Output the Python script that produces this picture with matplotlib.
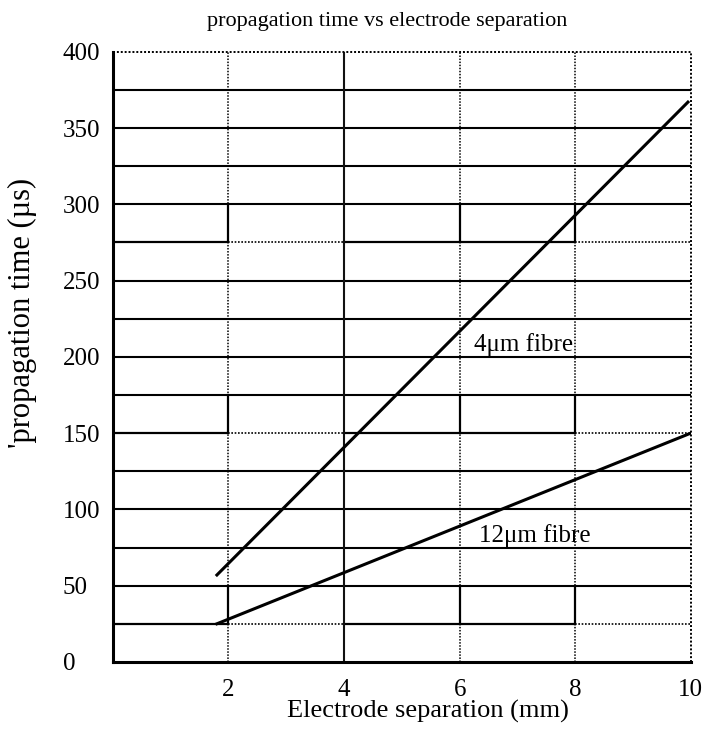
import numpy as np
import matplotlib.pyplot as plt

plt.rcParams['font.family'] = ['Liberation Serif', 'DejaVu Serif']

# measured fibres: end points of the fitted lines
sep_4um = [1.8, 9.95]
time_4um = [57, 367]
sep_12um = [1.8, 10.0]
time_12um = [25, 150]

xticks = [2, 4, 6, 8, 10]
yticks = [0, 50, 100, 150, 200, 250, 300, 350, 400]
grid_levels = np.arange(25, 400, 25)
band_lows = [25, 150, 275]   # lower edge of the boxed bands

fig = plt.figure(figsize=(7.1, 7.29), dpi=100)
ax = fig.add_axes([0.159, 0.092, 0.814, 0.837])
ax.set_xlim(0, 10)
ax.set_ylim(0, 400)

# horizontal grid, solid except where the band edges go dotted
for y in grid_levels:
    if y in band_lows:
        ax.plot([0, 2], [y, y], color='black', lw=1.6, zorder=1)
        ax.plot([2, 4], [y, y], color='black', lw=1.2, ls=(0, (1, 1)), zorder=1)
        ax.plot([4, 8], [y, y], color='black', lw=1.6, zorder=1)
        ax.plot([8, 10], [y, y], color='black', lw=1.2, ls=(0, (1, 1)), zorder=1)
    else:
        ax.plot([0, 10], [y, y], color='black', lw=1.5, zorder=1)

# vertical grid
for x in [2, 6, 8]:
    ax.plot([x, x], [0, 400], color='black', lw=1.1, ls=(0, (1, 1)), zorder=1)
ax.plot([4, 4], [0, 400], color='#111111', lw=1.5, zorder=1)

# box sides inside each band
for y in band_lows:
    for x in [2, 6, 8]:
        ax.plot([x, x], [y, y + 25], color='black', lw=1.6, zorder=2)

# frame: solid left/bottom, dotted top/right
for side in ['top', 'right']:
    ax.spines[side].set_visible(False)
ax.plot([0, 10], [400, 400], color='black', lw=1.4, ls=(0, (1, 1)), clip_on=False)
ax.plot([10, 10], [0, 400], color='black', lw=1.4, ls=(0, (1, 1)), clip_on=False)
ax.spines['left'].set_linewidth(2.2)
ax.spines['bottom'].set_linewidth(2.2)

ax.plot(sep_4um, time_4um, color='black', lw=2.2, zorder=3)
ax.plot(sep_12um, time_12um, color='black', lw=2.2, zorder=3)
ax.text(6.25, 208, '4μm fibre', fontsize=18, va='center', ha='left')
ax.text(6.33, 83, '12μm fibre', fontsize=18, va='center', ha='left')

ax.set_xticks(xticks)
ax.set_yticks(yticks)
ax.tick_params(length=0, labelsize=18)
ax.tick_params(axis='x', pad=12)
ax.tick_params(axis='y', pad=36)
for lab in ax.get_yticklabels():
    lab.set_horizontalalignment('left')

fig.text(0.603, 0.024, 'Electrode separation (mm)', fontsize=19,
         ha='center', va='center')
fig.text(0.031, 0.571, "'propagation time (µs)", fontsize=22,
         rotation=90, ha='center', va='center')
fig.text(0.546, 0.971, 'propagation time vs electrode separation',
         fontsize=16, ha='center', va='center')

fig.savefig('out.png', dpi=100)
